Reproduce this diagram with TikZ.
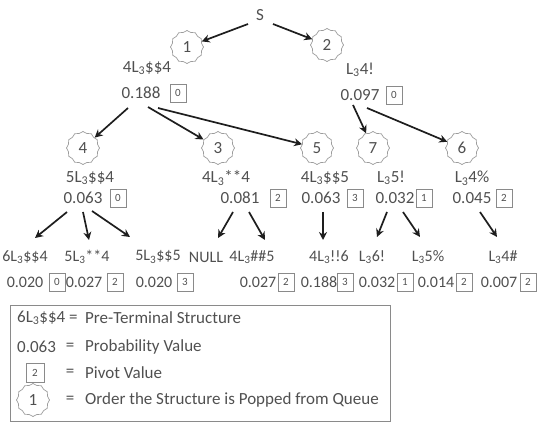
\documentclass[tikz,border=0pt]{standalone}
\usepackage{fontspec}
\setmainfont{Carlito}
\usetikzlibrary{shapes.geometric,arrows.meta}
\definecolor{txt}{HTML}{505050}
\definecolor{edge}{HTML}{8A8A8A}
\definecolor{arrc}{HTML}{1E1E1E}
\newcommand{\Lsub}{L\textsubscript{3}}
\tikzset{
  lbl/.style={text=txt,font=\fontsize{17}{19}\selectfont,inner sep=1pt,anchor=center},
  lblsm/.style={text=txt,font=\fontsize{16}{18}\selectfont,inner sep=1pt,anchor=center},
  pv/.style={draw=edge,line width=0.9pt,text=txt,font=\fontsize{11}{12}\selectfont,minimum width=16pt,minimum height=18pt,inner sep=0pt},
  ord/.style={star,star points=12,star point ratio=1.1,draw=edge!85,line width=0.7pt,minimum size=33pt,inner sep=0pt,text=txt,font=\fontsize{17}{19}\selectfont},
  arr/.style={draw=arrc,line width=1.7pt,-{Stealth[length=8pt,width=8pt]}},
  leg/.style={text=txt,font=\fontsize{17}{19}\selectfont,inner sep=0pt,anchor=west}
}
\begin{document}
\begin{tikzpicture}[x=1pt,y=-1pt]
\useasboundingbox (0,0) rectangle (539,425);
% root
\node[lbl] (S) at (260,15) {S};
% order stars
\node[ord] (s1) at (187,47) {1};
\node[ord] (s2) at (327,45) {2};
\node[ord] (s4) at (83,148) {4};
\node[ord] (s3) at (218,148) {3};
\node[ord] (s5) at (317,148) {5};
\node[ord] (s7) at (373,148) {7};
\node[ord] (s6) at (462,148) {6};
% level 1
\node[lbl] (l1a) at (147,68) {4\Lsub\$\$4};
\node[lbl] (p1a) at (141,93) {0.188};
\node[pv] (b1a) at (178,93) {0};
\node[lbl] (l1b) at (360,70) {\Lsub4!};
\node[lbl] (p1b) at (360,95) {0.097};
\node[pv] (b1b) at (394,95) {0};
% level 2
\node[lbl] (l2a) at (90,178) {5\Lsub\$\$4};
\node[lbl] (p2a) at (83,198) {0.063};
\node[pv] (b2a) at (118,198) {0};
\node[lbl] (l2b) at (226,178) {4\Lsub**4};
\node[lbl] (p2b) at (240,198) {0.081};
\node[pv] (b2b) at (278,198) {2};
\node[lbl] (l2c) at (325,178) {4\Lsub\$\$5};
\node[lbl] (p2c) at (321,198) {0.063};
\node[pv] (b2c) at (355,198) {3};
\node[lbl] (l2d) at (391,178) {\Lsub5!};
\node[lbl] (p2d) at (395,198) {0.032};
\node[pv] (b2d) at (424,198) {1};
\node[lbl] (l2e) at (472,178) {\Lsub4\%};
\node[lbl] (p2e) at (472,198) {0.045};
\node[pv] (b2e) at (504,198) {2};
% level 3
\node[lblsm] (l3a) at (25,257) {6\Lsub\$\$4};
\node[lblsm] (p3a) at (25,282) {0.020};
\node[pv] (b3a) at (57,282) {0};
\node[lblsm] (l3b) at (87,257) {5\Lsub**4};
\node[lblsm] (p3b) at (84,282) {0.027};
\node[pv] (b3b) at (115,282) {2};
\node[lblsm] (l3c) at (158,257) {5\Lsub\$\$5};
\node[lblsm] (p3c) at (154,282) {0.020};
\node[pv] (b3c) at (185,282) {3};
\node[lblsm] (l3d) at (206,257) {NULL};
\node[lblsm] (l3e) at (252,257) {4\Lsub\#\#5};
\node[lblsm] (p3e) at (258,282) {0.027};
\node[pv] (b3e) at (286,282) {2};
\node[lblsm] (l3f) at (329,257) {4\Lsub!!6};
\node[lblsm] (p3f) at (319,282) {0.188};
\node[pv] (b3f) at (345,282) {3};
\node[lblsm] (l3g) at (372,257) {\Lsub6!};
\node[lblsm] (p3g) at (377,282) {0.032};
\node[pv] (b3g) at (405,282) {1};
\node[lblsm] (l3h) at (428,257) {\Lsub5\%};
\node[lblsm] (p3h) at (436,282) {0.014};
\node[pv] (b3h) at (464,282) {2};
\node[lblsm] (l3i) at (503,257) {\Lsub4\#};
\node[lblsm] (p3i) at (499,282) {0.007};
\node[pv] (b3i) at (528,282) {2};
% arrows
\draw[arr] ([shift={(-12,9)}]S.center) -- (s1);
\draw[arr] ([shift={(13,9)}]S.center) -- (s2);
\draw[arr] ([shift={(-13,15)}]p1a.center) -- (s4);
\draw[arr] ([shift={(7,14)}]p1a.center) -- (s3);
\draw[arr] ([shift={(17,15)}]p1a.center) -- (s5);
\draw[arr] ([shift={(-7,10)}]p1b.center) -- (s7);
\draw[arr] ([shift={(7,13)}]p1b.center) -- (s6);
\draw[arr] ([shift={(-16,14)}]p2a.center) -- ([shift={(10,-19)}]l3a.center);
\draw[arr] ([shift={(0,14)}]p2a.center) -- ([shift={(2,-17)}]l3b.center);
\draw[arr] ([shift={(9,13)}]p2a.center) -- ([shift={(-28,-20)}]l3c.center);
\draw[arr] ([shift={(-7,14)}]p2b.center) -- ([shift={(12,-19)}]l3d.center);
\draw[arr] ([shift={(9,14)}]p2b.center) -- ([shift={(13,-17)}]l3e.center);
\draw[arr] ([shift={(2,14)}]p2c.center) -- ([shift={(-6,-17)}]l3f.center);
\draw[arr] ([shift={(-8,14)}]p2d.center) -- ([shift={(5,-20)}]l3g.center);
\draw[arr] ([shift={(8,14)}]p2d.center) -- ([shift={(-8,-20)}]l3h.center);
\draw[arr] ([shift={(8,14)}]p2e.center) -- ([shift={(-6,-20)}]l3i.center);
% legend
\node[draw=edge,line width=1.1pt,minimum width=380pt,minimum height=116pt,inner sep=0pt,anchor=north west] (legend) at (10,305) {};
\node[leg] (k1) at (17,318) {6\Lsub\$\$4 =};
\node[leg] (v1) at (85,318) {Pre-Terminal Structure};
\node[leg] (k2) at (17,347) {0.063};
\node[lbl] (e2) at (70,347) {=};
\node[leg] (v2) at (85,347) {Probability Value};
\node[pv,minimum width=18pt,minimum height=19pt] (k3) at (35,373) {2};
\node[lbl] (e3) at (70,373) {=};
\node[leg] (v3) at (85,373) {Pivot Value};
\node[ord] (k4) at (33,400) {1};
\node[lbl] (e4) at (70,400) {=};
\node[leg] (v4) at (85,400) {Order the Structure is Popped from Queue};
\end{tikzpicture}
\end{document}
